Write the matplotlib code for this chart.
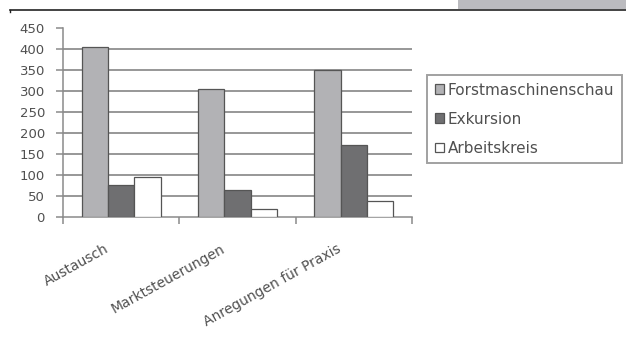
import matplotlib
matplotlib.use("Agg")
import matplotlib.pyplot as plt
import numpy as np
from matplotlib.lines import Line2D
from matplotlib.patches import Rectangle

categories = ["Austausch", "Marktsteuerungen", "Anregungen für Praxis"]
series_names = ["Forstmaschinenschau", "Exkursion", "Arbeitskreis"]
forstmaschinenschau = [405, 304, 349]
exkursion = [77, 64, 171]
arbeitskreis = [95, 18, 37]
yticks = [0, 50, 100, 150, 200, 250, 300, 350, 400, 450]

plt.rcParams["font.family"] = ["DejaVu Sans"]
text_color = "#505050"
axis_color = "#8a8a8a"

W, H = 626, 338
fig = plt.figure(figsize=(W / 100, H / 100), dpi=100)
ax = fig.add_axes([63 / W, 1 - 217 / H, (412 - 63) / W, (217 - 27.7) / H])

colors = ["#b2b2b5", "#6f6f71", "#ffffff"]
values = [forstmaschinenschau, exkursion, arbeitskreis]
x = np.arange(len(categories))
bw = 0.226
for i, (vals, c, name) in enumerate(zip(values, colors, series_names)):
    ax.bar(x + (i - 1) * bw, vals, bw, color=c, edgecolor="#555555",
           linewidth=0.9, label=name, zorder=3)

ax.set_xlim(-0.5, 2.5)
ax.set_ylim(0, 450)
ax.set_yticks(yticks)
# horizontal grid lines between the baseline and the top tick
for yv in yticks[1:-1]:
    ax.axhline(yv, color="#7a7a7a", linewidth=1.1, zorder=0)
for s in ["top", "right"]:
    ax.spines[s].set_visible(False)
ax.spines["left"].set_color(axis_color)
ax.spines["bottom"].set_color(axis_color)
ax.spines["left"].set_linewidth(1.1)
ax.spines["bottom"].set_linewidth(1.1)
ax.tick_params(axis="y", colors=axis_color, labelcolor=text_color,
               labelsize=9.5, length=5, width=1.1, pad=8, direction="out")

ax.set_xticks(np.arange(-0.5, 2.6, 1.0))
ax.set_xticklabels([])
ax.tick_params(axis="x", colors=axis_color, length=5, width=1.1,
               direction="out")

# slanted category names
for xc, lab in zip(x, categories):
    ax.annotate(lab, xy=(xc, 0), xycoords=("data", "axes fraction"),
                xytext=(-10, -22), textcoords="offset points",
                rotation=29, rotation_mode="anchor", ha="right", va="center",
                fontsize=10, color=text_color)

leg = ax.legend(loc="upper left", bbox_to_anchor=(427 / W, 1 - 75 / H),
                bbox_transform=fig.transFigure, frameon=True, fancybox=False,
                fontsize=11, handlelength=0.6, handleheight=0.6,
                handletextpad=0.25, labelspacing=0.92, borderpad=0.5,
                borderaxespad=0)
leg.get_frame().set_edgecolor(axis_color)
leg.get_frame().set_linewidth(1.4)
for t in leg.get_texts():
    t.set_color(text_color)

# header rule and shaded tab along the top edge
fig.add_artist(Line2D([10 / W, 1], [1 - 9.5 / H] * 2, color="#222222",
                      linewidth=1.2, transform=fig.transFigure))
fig.add_artist(Line2D([10 / W, 10 / W], [1 - 9.5 / H, 1 - 12 / H],
                      color="#222222", linewidth=1.0,
                      transform=fig.transFigure))
fig.add_artist(Rectangle((458 / W, 1 - 9 / H), 1 - 458 / W, 9 / H,
                         facecolor="#bbbbbf", edgecolor="none",
                         transform=fig.transFigure))

fig.savefig("out.png", dpi=100)
